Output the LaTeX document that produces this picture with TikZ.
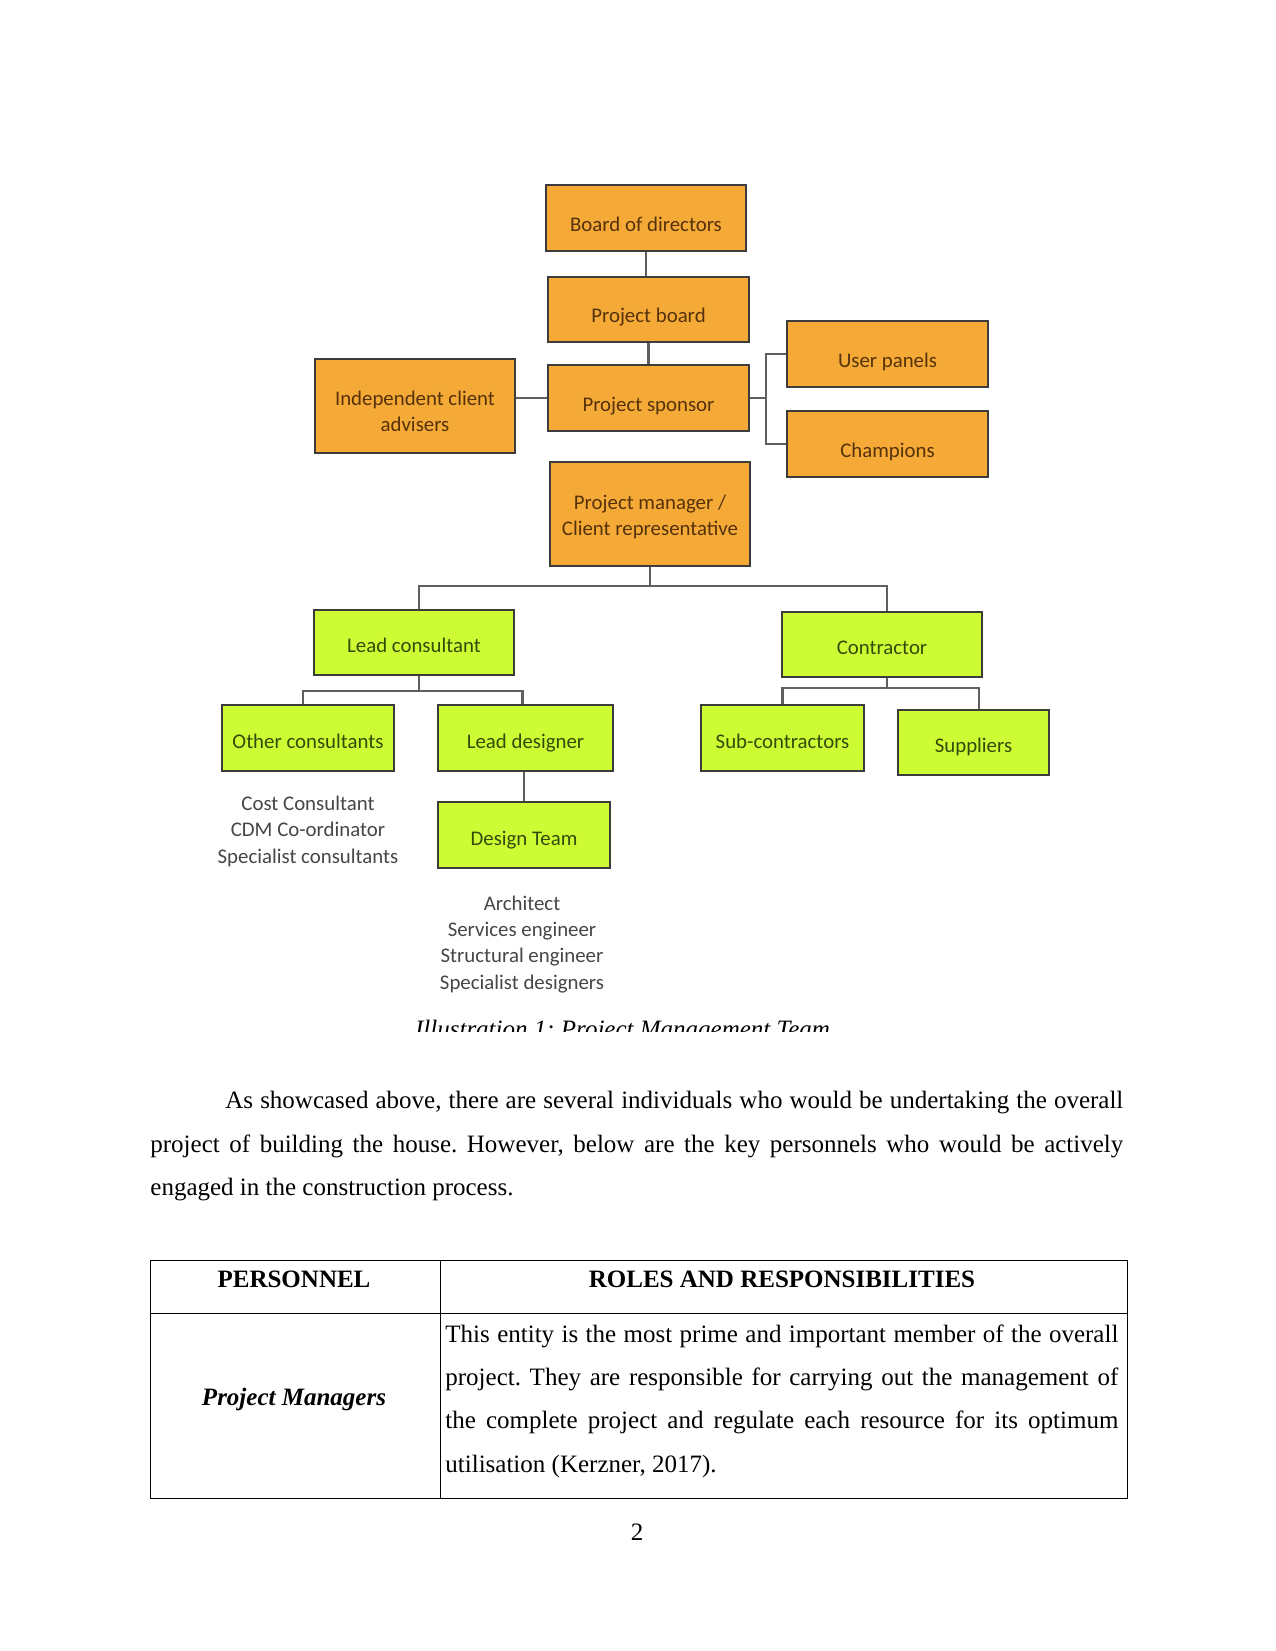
\documentclass[tikz,border=0pt]{standalone}
\usepackage{fontspec}
\setmainfont{Liberation Serif}
\newfontfamily\carlito{Carlito}
\definecolor{orangefill}{RGB}{245,170,55}
\definecolor{greenfill}{RGB}{206,252,52}
\definecolor{boxborder}{RGB}{60,60,60}
\definecolor{conncol}{RGB}{95,95,95}
\definecolor{browntxt}{RGB}{85,50,10}
\definecolor{greentxt}{RGB}{50,75,10}
\definecolor{graytxt}{RGB}{70,70,70}
\frenchspacing
\begin{document}
\begin{tikzpicture}[x={(0.48pt,0pt)},y={(0pt,-0.48pt)},
  box/.style={draw=boxborder, line width=1pt, inner sep=0pt, align=center,
    font=\carlito\fontsize{10}{12.5}\selectfont},
  obox/.style={box, fill=orangefill, text=browntxt, text height=15.2pt, text depth=2.5pt},
  gbox/.style={box, fill=greenfill, text=greentxt, text height=12.3pt, text depth=2.5pt},
  conn/.style={draw=conncol, line width=1pt},
  listtxt/.style={align=center, inner sep=0pt, text=graytxt,
    font=\carlito\fontsize{10}{12.5}\selectfont},
  bodytxt/.style={inner sep=0pt, font=\frenchspacing\fontsize{12}{14}\selectfont},
  tabline/.style={black, line width=0.45pt},
]
\fill[white] (0,0) rectangle (1275,1651);
\useasboundingbox (0,0) rectangle (1275,1651);

% ---- orange boxes
\node[obox, minimum width=96pt, minimum height=31.7pt] (bod) at (646,218) {Board of directors};
\node[obox, minimum width=96.5pt, minimum height=31.2pt] (pb) at (648.5,309.5) {Project board};
\node[obox, minimum width=96.5pt, minimum height=31.7pt] (ps) at (648.5,398) {Project sponsor};
\node[obox, minimum width=96pt, minimum height=45.1pt, text height=26.8pt, text depth=2.5pt] (ica) at (415,406) {Independent client\\advisers};
\node[obox, minimum width=96.5pt, minimum height=31.7pt] (up) at (887.5,354) {User panels};
\node[obox, minimum width=96.5pt, minimum height=31.7pt] (ch) at (887.5,444) {Champions};
\node[obox, minimum width=96pt, minimum height=49.9pt, text height=22.9pt, text depth=2.5pt] (pm) at (650,514) {Project manager /\\Client representative};

% ---- green boxes
\node[gbox, minimum width=96pt, minimum height=31.2pt] (lc) at (414,642.5) {Lead consultant};
\node[gbox, minimum width=96pt, minimum height=31.2pt] (con) at (882,644.5) {Contractor};
\node[gbox, minimum width=82.6pt, minimum height=31.7pt] (oc) at (308,738) {Other consultants};
\node[gbox, minimum width=84pt, minimum height=31.7pt] (ld) at (525.5,738) {Lead designer};
\node[gbox, minimum width=78.2pt, minimum height=31.7pt] (sc) at (782.5,738) {Sub-contractors};
\node[gbox, minimum width=72.5pt, minimum height=31.2pt] (sup) at (973.5,742.5) {Suppliers};
\node[gbox, minimum width=82.6pt, minimum height=31.7pt] (dt) at (524,835) {Design Team};

% ---- guide coordinates
\coordinate (brk) at (766,398);
\coordinate (ypm) at (0,586);
\coordinate (xlc) at (419,0);
\coordinate (xcon) at (887,0);
\coordinate (ylcb) at (0,691);
\coordinate (xoc) at (303,0);
\coordinate (xld) at (522.5,0);
\coordinate (yconb) at (0,688);
\coordinate (xsc) at (782.5,0);
\coordinate (xsup) at (979,0);

% ---- connectors
\draw[conn] (bod.south) -- (bod.south |- pb.north);
\draw[conn] (pb.south) -- (pb.south |- ps.north);
\draw[conn] (ps.west) -- (ps.west -| ica.east);
\draw[conn] (ps.east) -- (brk);
\draw[conn] (up.west) -| (brk |- ch.west) -- (ch.west);
\draw[conn] (pm.south) -- (pm.south |- ypm);
\draw[conn] (lc.north -| xlc) -- (xlc |- ypm) -- (xcon |- ypm) -- (con.north -| xcon);
\draw[conn] (lc.south -| xlc) -- (xlc |- ylcb);
\draw[conn] (oc.north -| xoc) -- (xoc |- ylcb) -- (xld |- ylcb) -- (ld.north -| xld);
\draw[conn] (con.south -| xcon) -- (xcon |- yconb);
\draw[conn] (sc.north -| xsc) -- (xsc |- yconb) -- (xsup |- yconb) -- (sup.north -| xsup);
\draw[conn] (dt.north) -- (dt.north |- ld.south);

% ---- lists (base anchor = baseline of the last line)
\node[listtxt, anchor=base] (oclist) at (308,863) {Cost Consultant\\CDM Co-ordinator\\Specialist consultants};
\node[listtxt, anchor=base] (dtlist) at (522,989) {Architect\\Services engineer\\Structural engineer\\Specialist designers};

% ---- caption (cut off at the bottom, as in the reference)
\begin{scope}
\clip (300,990) rectangle (950,1031);
\node[inner sep=0pt, anchor=base, font=\itshape\fontsize{12}{14}\selectfont] (cap) at (622.5,1037.5) {Illustration 1: Project Management Team};
\end{scope}

% ---- paragraph
\node[bodytxt, anchor=base west] (p1) at (225,1108) {\makebox[431pt][s]{As showcased above, there are several individuals who would be undertaking the overall}};
\node[bodytxt, anchor=base west] (p2) at (150,1152) {\makebox[467pt][s]{project of building the house. However, below are the key personnels who would be actively}};
\node[bodytxt, anchor=base west] (p3) at (150,1195) {engaged in the construction process.};

% ---- table
\draw[tabline] (150,1260) rectangle (1127,1498);
\draw[tabline] (440,1260) -- (440,1498);
\draw[tabline] (150,1313) -- (1127,1313);
\node[bodytxt, anchor=base, font=\bfseries\fontsize{12}{14}\selectfont] (h1) at (294,1287) {PERSONNEL};
\node[bodytxt, anchor=base, font=\bfseries\fontsize{12}{14}\selectfont] (h2) at (782,1287) {ROLES AND RESPONSIBILITIES};
\node[bodytxt, anchor=base, font=\bfseries\itshape\fontsize{12}{14}\selectfont] (pmcell) at (294,1405) {Project Managers};
\node[bodytxt, anchor=base west] (r1) at (445,1342) {\makebox[323pt][s]{This entity is the most prime and important member of the overall}};
\node[bodytxt, anchor=base west] (r2) at (445,1385) {\makebox[323pt][s]{project. They are responsible for carrying out the management of}};
\node[bodytxt, anchor=base west] (r3) at (445,1428) {\makebox[323pt][s]{the complete project and regulate each resource for its optimum}};
\node[bodytxt, anchor=base west] (r4) at (445,1472) {utilisation (Kerzner, 2017).};

% ---- page number
\node[bodytxt, anchor=base] (pg) at (637,1540) {2};
\end{tikzpicture}
\end{document}
